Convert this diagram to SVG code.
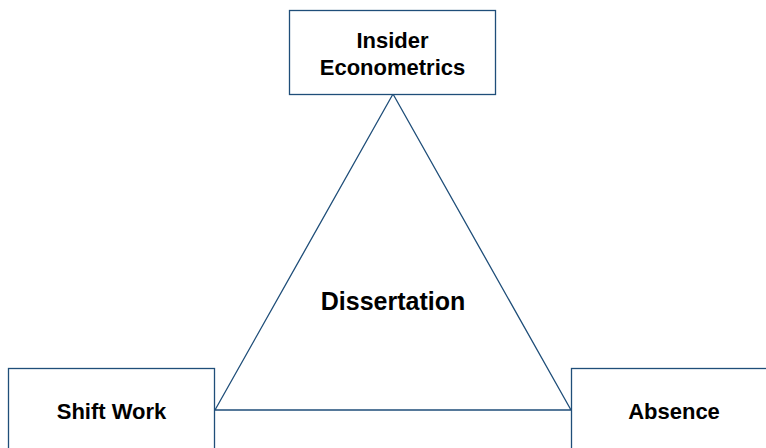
<svg xmlns="http://www.w3.org/2000/svg" width="766" height="448" viewBox="0 0 766 448">
<style>
.box{fill:#fff;stroke:#1f4e79;stroke-width:1.3}
.lbl{font-family:"Liberation Sans",Arial,sans-serif;font-weight:bold;font-size:22px;fill:#000;text-anchor:middle}
.edge{fill:none;stroke:#1f4e79;stroke-width:1.3}
</style>
<rect width="766" height="448" fill="#fff"/>
<g id="connectors">
<polygon class="edge" points="393,94 215,410 571,410"/>
</g>
<g id="center">
<text class="lbl" x="393" y="310" style="font-size:25px">Dissertation</text>
</g>
<g id="insider">
<rect class="box" x="289.5" y="10.5" width="206" height="84"/>
<text class="lbl" x="392.5" y="48">Insider</text>
<text class="lbl" x="392.5" y="75">Econometrics</text>
</g>
<g id="shift">
<rect class="box" x="8.5" y="368.5" width="206" height="84"/>
<text class="lbl" x="111.5" y="419">Shift Work</text>
</g>
<g id="absence">
<rect class="box" x="571.5" y="368.5" width="206" height="84"/>
<text class="lbl" x="674" y="419">Absence</text>
</g>
</svg>
